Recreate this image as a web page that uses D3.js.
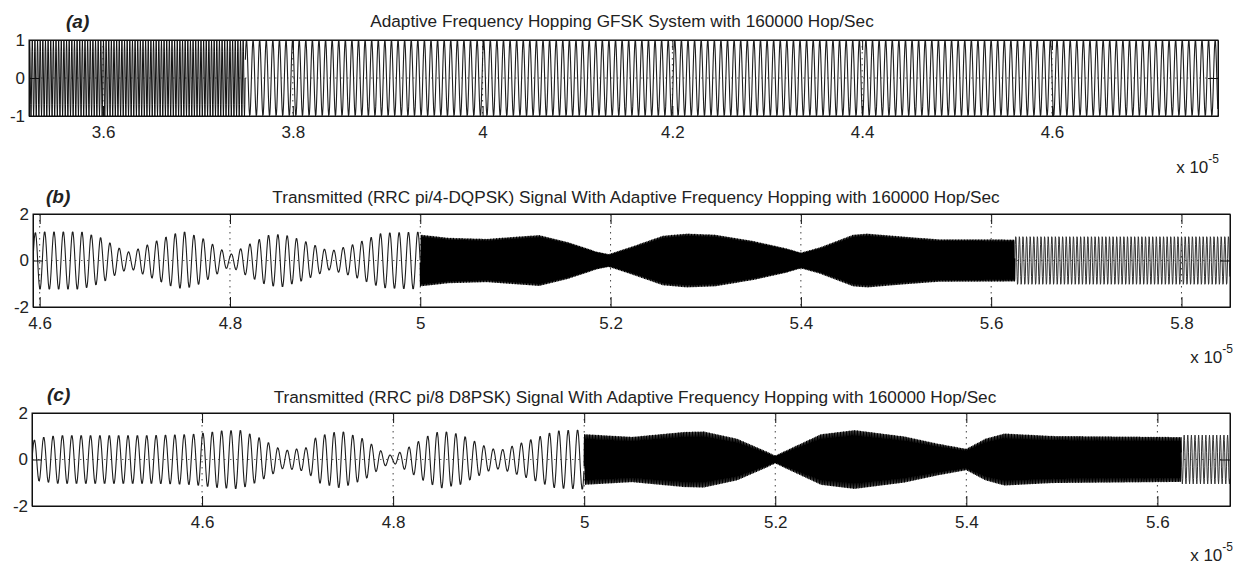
<!DOCTYPE html>
<html>
<head>
<meta charset="utf-8">
<script src="https://cdn.jsdelivr.net/npm/d3@7"></script>
<style>
  body { margin: 0; background: #fff; }
  text { font-family: "Liberation Sans", Arial, sans-serif; fill: #222; }
</style>
</head>
<body>
<div id="graph"></div>
<script>

// ---- panel (a): GFSK ----
var aTitle = "Adaptive Frequency Hopping GFSK System with 160000 Hop/Sec";
var aXlim = [3.522, 4.775];
var aYlim = [-1, 1];
var aXticks = [3.6, 3.8, 4, 4.2, 4.4, 4.6];
var aYticks = [-1, 0, 1];
// hop segments (x 1e-5 s) and carrier cycles per 1e-5 s, counted off the picture
var aSegStart = [3.522, 3.75];
var aSegEnd = [3.75, 4.775];
var aSegCycles = [360, 144];
var aSegKind = ["gfskFast", "tone"];
var aEnvTime = [3.522, 4.775];
var aEnvAmp = [1, 1];

// ---- panel (b): pi/4-DQPSK ----
var bTitle = "Transmitted (RRC pi/4-DQPSK) Signal With Adaptive Frequency Hopping with 160000 Hop/Sec";
var bXlim = [4.593, 5.851];
var bYlim = [-2, 2];
var bXticks = [4.6, 4.8, 5, 5.2, 5.4, 5.6, 5.8];
var bYticks = [-2, 0, 2];
var bSegStart = [4.593, 5.0, 5.625];
var bSegEnd = [5.0, 5.625, 5.851];
var bSegCycles = [102, 620, 264];
var bSegKind = ["tone", "dense", "fast"];
var bEnvTime = [4.593, 4.6, 4.644, 4.664, 4.683, 4.695, 4.72, 4.74, 4.752, 4.77, 4.79, 4.8, 4.815, 4.84, 4.855, 4.875, 4.905, 4.93, 4.96, 4.999,
                5.0, 5.03, 5.07, 5.1, 5.125, 5.155, 5.185, 5.198, 5.22, 5.255, 5.28, 5.31, 5.35, 5.385, 5.4, 5.42, 5.455, 5.47, 5.51, 5.545, 5.6249,
                5.625, 5.851];
var bEnvAmp = [1.2, 1.25, 1.25, 1.0, 0.55, 0.35, 0.8, 1.15, 1.25, 1.0, 0.5, 0.25, 0.6, 1.1, 1.15, 0.9, 0.4, 0.7, 1.2, 1.25,
               1.2, 1.05, 1.0, 1.1, 1.18, 0.85, 0.4, 0.28, 0.6, 1.15, 1.25, 1.2, 0.9, 0.55, 0.35, 0.6, 1.2, 1.25, 1.1, 0.98, 0.97,
               1.05, 1.05];

// ---- panel (c): pi/8 D8PSK ----
var cTitle = "Transmitted (RRC pi/8 D8PSK) Signal With Adaptive Frequency Hopping with 160000 Hop/Sec";
var cXlim = [4.422, 5.676];
var cYlim = [-2, 2];
var cXticks = [4.6, 4.8, 5, 5.2, 5.4, 5.6];
var cYticks = [-2, 0, 2];
var cSegStart = [4.422, 5.0, 5.625];
var cSegEnd = [5.0, 5.625, 5.676];
var cSegCycles = [102, 620, 264];
var cSegKind = ["tone", "dense", "fast"];
var cEnvTime = [4.422, 4.43, 4.45, 4.5, 4.55, 4.59, 4.62, 4.64, 4.66, 4.685, 4.71, 4.72, 4.745, 4.77, 4.79, 4.8, 4.815, 4.835, 4.85, 4.87, 4.9, 4.912, 4.94, 4.97, 4.999,
                5.0, 5.05, 5.105, 5.125, 5.16, 5.19, 5.2, 5.215, 5.248, 5.283, 5.335, 5.37, 5.4, 5.42, 5.44, 5.49, 5.6249,
                5.625, 5.676];
var cEnvAmp = [0.8, 0.95, 1.05, 1.05, 1.05, 1.1, 1.25, 1.28, 0.95, 0.38, 0.52, 1.0, 1.25, 0.88, 0.3, 0.15, 0.5, 1.0, 1.25, 1.1, 0.5, 0.4, 0.8, 1.25, 1.3,
               1.1, 0.98, 1.2, 1.22, 0.9, 0.35, 0.15, 0.45, 1.1, 1.28, 1.0, 0.68, 0.45, 0.9, 1.13, 1.02, 0.97,
               1.05, 1.05];

var panels = [
  {tag: "(a)", title: aTitle, xlim: aXlim, ylim: aYlim, xticks: aXticks, yticks: aYticks,
   segStart: aSegStart, segEnd: aSegEnd, segCycles: aSegCycles, segKind: aSegKind, envTime: aEnvTime, envAmp: aEnvAmp,
   box: {left: 29, right: 1218, top: 40, bottom: 116}, titleX: 622, titleY: 27, tagX: 66, tagY: 28, expRight: 1219, expY: 173},
  {tag: "(b)", title: bTitle, xlim: bXlim, ylim: bYlim, xticks: bXticks, yticks: bYticks,
   segStart: bSegStart, segEnd: bSegEnd, segCycles: bSegCycles, segKind: bSegKind, envTime: bEnvTime, envAmp: bEnvAmp,
   box: {left: 33, right: 1230, top: 214, bottom: 307}, titleX: 636, titleY: 203, tagX: 46, tagY: 203, expRight: 1233, expY: 363},
  {tag: "(c)", title: cTitle, xlim: cXlim, ylim: cYlim, xticks: cXticks, yticks: cYticks,
   segStart: cSegStart, segEnd: cSegEnd, segCycles: cSegCycles, segKind: cSegKind, envTime: cEnvTime, envAmp: cEnvAmp,
   box: {left: 32, right: 1230, top: 413, bottom: 506}, titleX: 635, titleY: 403, tagX: 47, tagY: 401, expRight: 1233, expY: 561}
];

// line styles for each kind of hop
var kindStyle = {
  gfskFast: {stroke: "#111", width: 1.0, perCycle: 8},
  tone: {stroke: "#1e1e1e", width: 1.1, perCycle: 14},
  dense: {stroke: "#000", width: 1.3, perCycle: 6},
  fast: {stroke: "#333", width: 1.0, perCycle: 10}
};

var svgWidth = 1240;
var svgHeight = 567;

var svg = d3.select("#graph")
  .append("svg")
  .attr("width", svgWidth)
  .attr("height", svgHeight);

var tickLen = 10;
var plain = d => String(d);

panels.forEach(function(p, pi) {

  var xScale = d3.scaleLinear().domain(p.xlim).range([p.box.left, p.box.right]);
  var yScale = d3.scaleLinear().domain(p.ylim).range([p.box.bottom, p.box.top]);
  var env = d3.scaleLinear().domain(p.envTime).range(p.envAmp).clamp(true);

  var g = svg.append("g");

  // clip region for the signal
  g.append("clipPath")
    .attr("id", "clip" + pi)
    .append("rect")
    .attr("x", p.box.left)
    .attr("y", p.box.top)
    .attr("width", p.box.right - p.box.left)
    .attr("height", p.box.bottom - p.box.top);

  // dotted grid
  g.selectAll(".vgrid")
    .data(p.xticks)
    .enter()
    .append("line")
    .attr("x1", d => xScale(d))
    .attr("x2", d => xScale(d))
    .attr("y1", p.box.top)
    .attr("y2", p.box.bottom)
    .attr("stroke", "#444")
    .attr("stroke-width", 1)
    .attr("stroke-dasharray", "1.5,4.5");

  g.selectAll(".hgrid")
    .data(p.yticks.filter(d => d != p.ylim[0] && d != p.ylim[1]))
    .enter()
    .append("line")
    .attr("x1", p.box.left)
    .attr("x2", p.box.right)
    .attr("y1", d => yScale(d))
    .attr("y2", d => yScale(d))
    .attr("stroke", "#666")
    .attr("stroke-width", 1)
    .attr("stroke-dasharray", "1.5,4.5");

  // the waveform: carrier under the envelope
  var line = d3.line()
    .x(d => xScale(d[0]))
    .y(d => yScale(d[1]));

  var phase = 0;
  p.segStart.forEach(function(t0, si) {
    var t1 = p.segEnd[si];
    var f = p.segCycles[si];
    var st = kindStyle[p.segKind[si]];
    var dt = 1 / (f * st.perCycle);
    var pts = [];
    for (var t = t0; t <= t1; t += dt) {
      pts.push([t, env(t) * Math.sin(phase + 2 * Math.PI * f * (t - t0))]);
    }
    phase += 2 * Math.PI * f * (t1 - t0);
    g.append("path")
      .attr("clip-path", "url(#clip" + pi + ")")
      .attr("d", line(pts))
      .attr("fill", "none")
      .attr("stroke", st.stroke)
      .attr("stroke-width", st.width)
      .attr("stroke-linejoin", "round");
  });

  // axes with inward ticks
  g.append("g")
    .attr("transform", `translate(0, ${p.box.bottom})`)
    .call(d3.axisBottom(xScale).tickValues(p.xticks).tickSize(-tickLen).tickSizeOuter(0).tickPadding(10).tickFormat(plain));
  g.append("g")
    .attr("transform", `translate(0, ${p.box.top})`)
    .call(d3.axisTop(xScale).tickValues(p.xticks).tickSize(-tickLen).tickSizeOuter(0).tickFormat(""));
  g.append("g")
    .attr("transform", `translate(${p.box.left}, 0)`)
    .call(d3.axisLeft(yScale).tickValues(p.yticks).tickSize(-tickLen).tickSizeOuter(0).tickPadding(4).tickFormat(plain));
  g.append("g")
    .attr("transform", `translate(${p.box.right}, 0)`)
    .call(d3.axisRight(yScale).tickValues(p.yticks).tickSize(-tickLen).tickSizeOuter(0).tickFormat(""));

  g.selectAll(".tick line").attr("stroke", "#111");
  g.selectAll(".domain").attr("stroke", "#111");
  g.selectAll(".tick text")
    .style("font-family", "'Liberation Sans', Arial, sans-serif")
    .style("font-size", "17px")
    .attr("fill", "#222");

  // box
  g.append("rect")
    .attr("x", p.box.left)
    .attr("y", p.box.top)
    .attr("width", p.box.right - p.box.left)
    .attr("height", p.box.bottom - p.box.top)
    .attr("fill", "none")
    .attr("stroke", "#111")
    .attr("stroke-width", 1);

  // title and panel tag
  g.append("text")
    .attr("x", p.titleX)
    .attr("y", p.titleY)
    .attr("text-anchor", "middle")
    .style("font-size", "17.2px")
    .text(p.title);

  g.append("text")
    .attr("x", p.tagX)
    .attr("y", p.tagY)
    .style("font-size", "19px")
    .style("font-weight", "bold")
    .style("font-style", "italic")
    .text(p.tag);

  // exponent label
  var ex = g.append("text")
    .attr("x", p.expRight)
    .attr("y", p.expY)
    .attr("text-anchor", "end")
    .style("font-size", "17px");
  ex.append("tspan").text("x 10");
  ex.append("tspan").attr("dy", -10).style("font-size", "12px").text("-5");

});

</script>
</body>
</html>
